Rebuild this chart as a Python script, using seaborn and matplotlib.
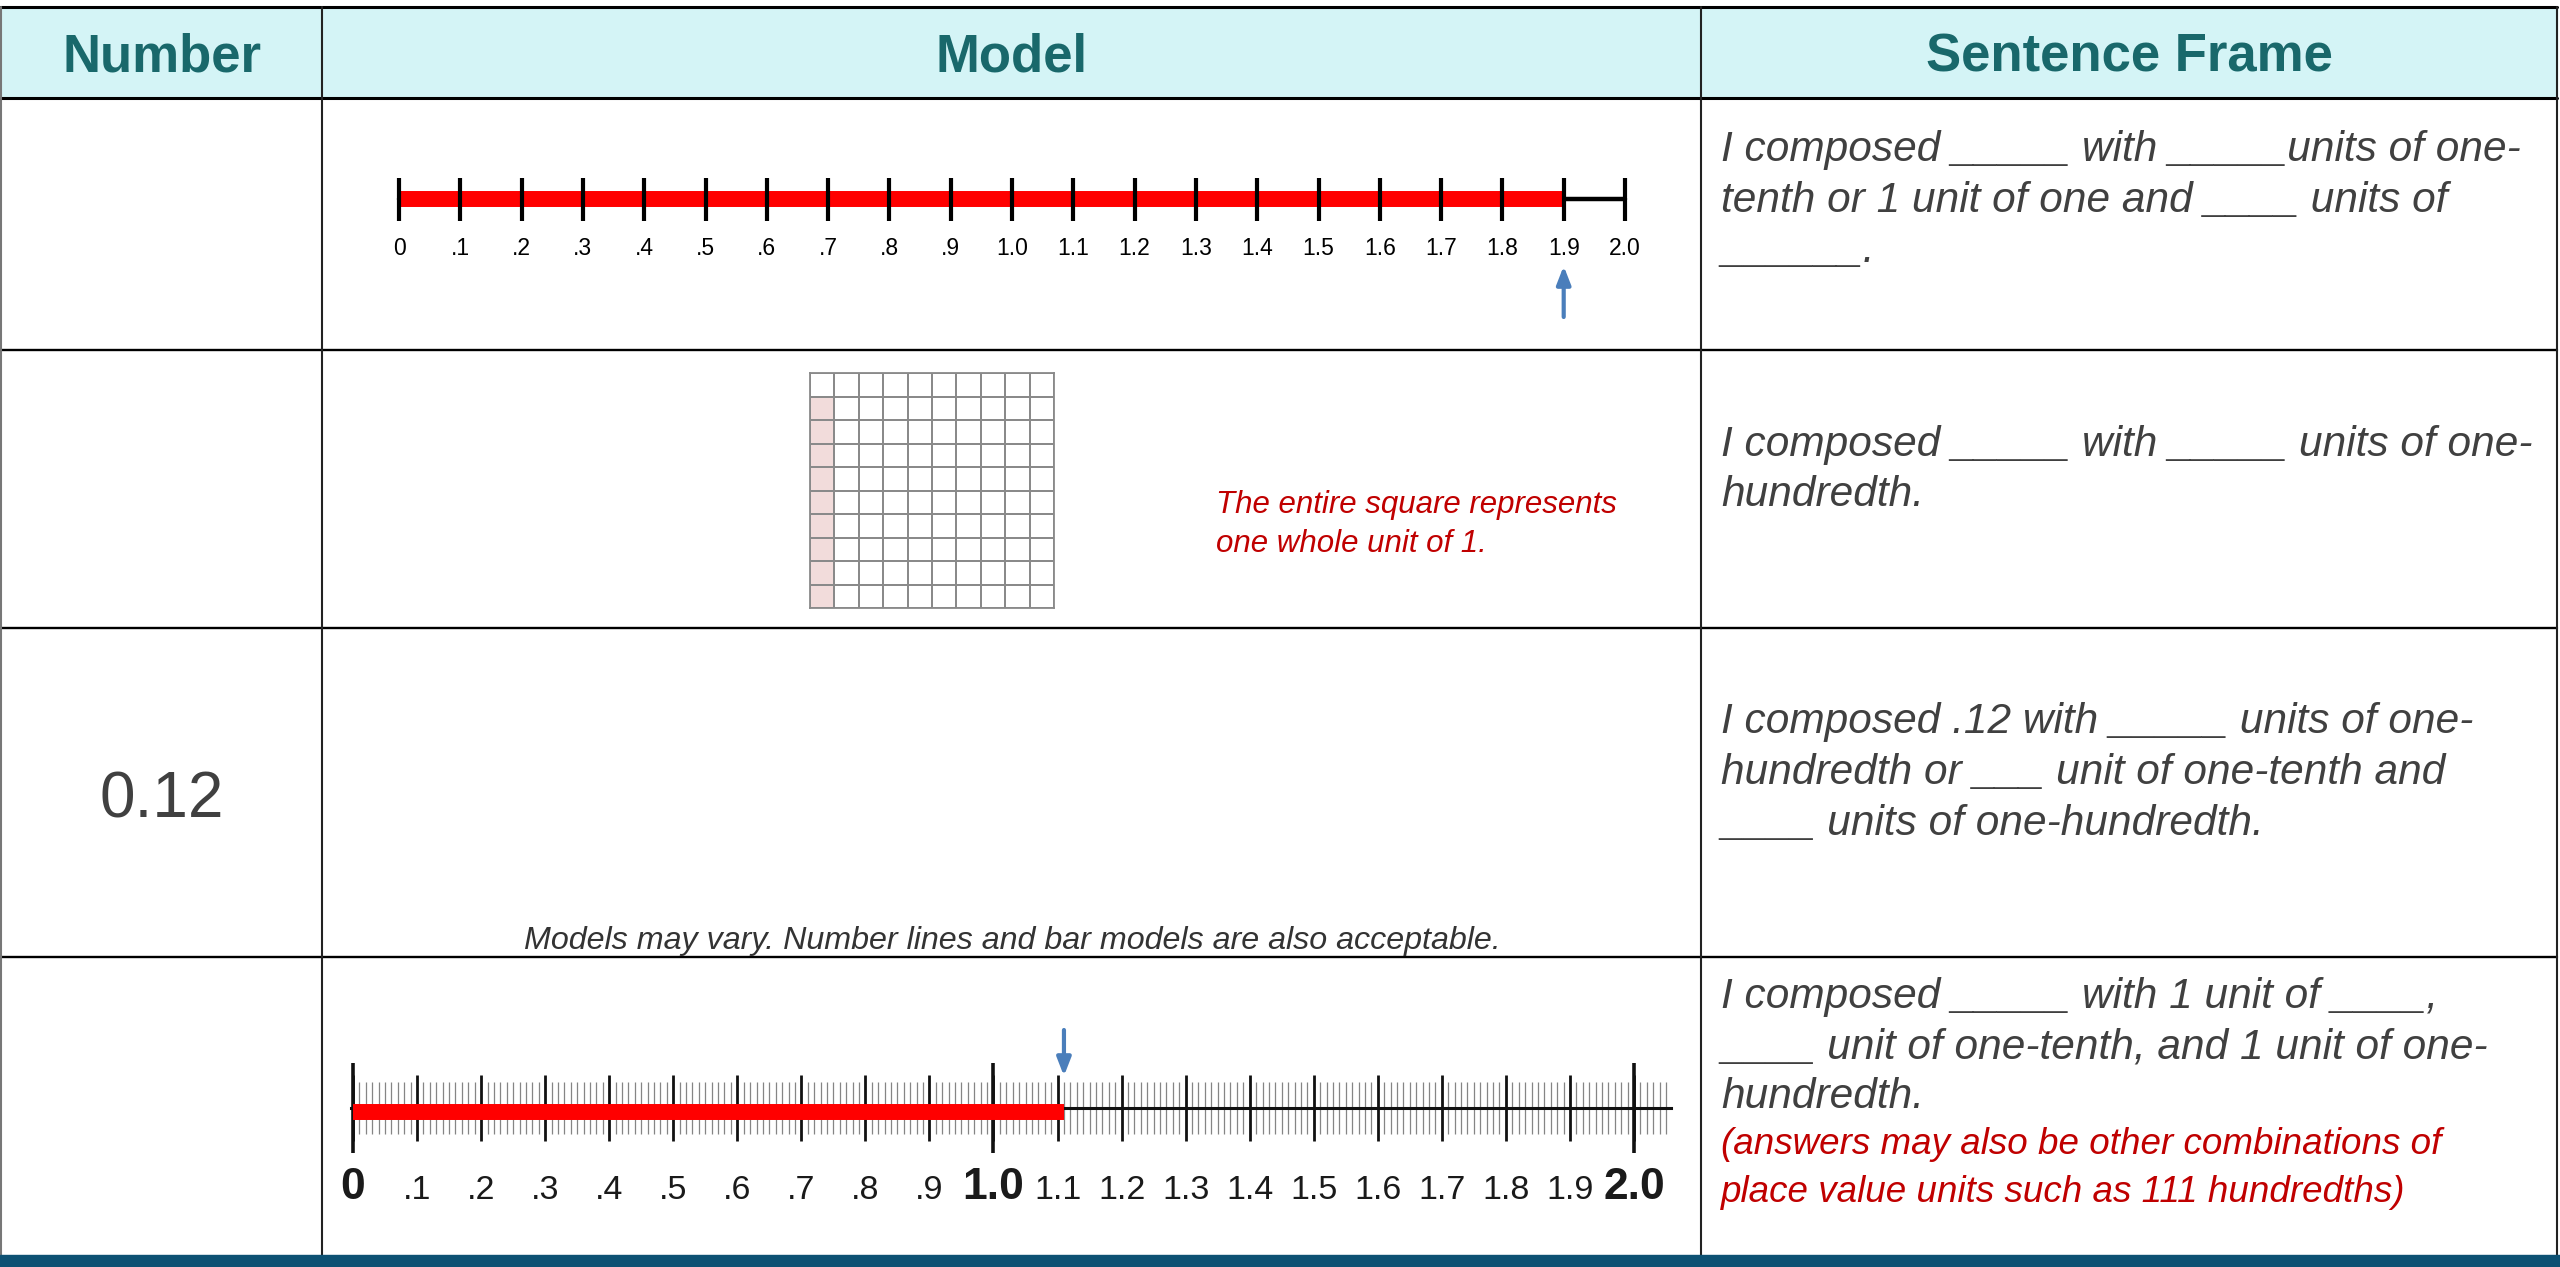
import numpy as np
import matplotlib
matplotlib.use("Agg")
import matplotlib.pyplot as plt
from matplotlib.colors import ListedColormap
from matplotlib.patches import Rectangle
from matplotlib.ticker import MultipleLocator
import seaborn as sns

# ── Data ──────────────────────────────────────────────────────────────
HEADERS = ["Number", "Model", "Sentence Frame"]
ROW_NUMBERS = ["", "", "0.12", ""]

TENTHS = [0.0, 0.1, 0.2, 0.3, 0.4, 0.5, 0.6, 0.7, 0.8, 0.9, 1.0,
          1.1, 1.2, 1.3, 1.4, 1.5, 1.6, 1.7, 1.8, 1.9, 2.0]
TENTH_LABELS = ["0", ".1", ".2", ".3", ".4", ".5", ".6", ".7", ".8", ".9", "1.0",
                "1.1", "1.2", "1.3", "1.4", "1.5", "1.6", "1.7", "1.8", "1.9", "2.0"]
LINE1_SHADED_TO = 1.9

GRID_SIZE = 10
GRID_SHADED_ROWS = [1, 2, 3, 4, 5, 6, 7, 8, 9]
GRID_SHADED_COL = 0
GRID_NOTE = ["The entire square represents", "one whole unit of 1."]

MODEL_NOTE = "Models may vary. Number lines and bar models are also acceptable."

RULER_BOLD = ["0", "1.0", "2.0"]
RULER_SHADED_TO = 1.11

FRAMES = [
    ["I composed _____ with _____units of one-",
     "tenth or 1 unit of one and ____ units of",
     "______."],
    ["I composed _____ with _____ units of one-",
     "hundredth."],
    ["I composed .12 with _____ units of one-",
     "hundredth or ___ unit of one-tenth and",
     "____ units of one-hundredth."],
    ["I composed _____ with 1 unit of ____,",
     "____ unit of one-tenth, and 1 unit of one-",
     "hundredth."],
]
FRAME_NOTE = ["(answers may also be other combinations of",
              "place value units such as 111 hundredths)"]

# ── Layout (pixels) ───────────────────────────────────────────────────
W, H, DPI = 2560, 1267, 100
COL_X = [1, 322, 1701, 2557]
ROW_Y = [7, 98, 350, 628, 957, 1255]
HEADER_BG = "#D4F4F6"
HEADER_FG = "#19686B"
TEXT_GREY = "#404040"
NOTE_RED = "#C00000"
ARROW_BLUE = "#4A7EBB"
BAR_BLUE = "#0D5173"

sns.set_theme(style="white")
plt.rcParams["font.family"] = ["Liberation Sans", "DejaVu Sans"]

fig = plt.figure(figsize=(W / DPI, H / DPI), dpi=DPI)


def px_axes(x0, y0, x1, y1):
    return fig.add_axes([x0 / W, 1 - y1 / H, (x1 - x0) / W, (y1 - y0) / H])


# ── Table frame ───────────────────────────────────────────────────────
ax = px_axes(0, 0, W, H)
ax.set_xlim(0, W)
ax.set_ylim(H, 0)
ax.axis("off")

ax.add_patch(Rectangle((0, ROW_Y[0]), COL_X[-1], ROW_Y[1] - ROW_Y[0],
                       color=HEADER_BG, zorder=0))
ax.add_patch(Rectangle((0, ROW_Y[-1]), W, H - ROW_Y[-1], color=BAR_BLUE, zorder=3))

for i, y in enumerate(ROW_Y[:-1]):
    ax.plot([0, COL_X[-1]], [y, y], color="black", lw=2.2 if i < 2 else 1.7, zorder=2)
for x in COL_X:
    ax.plot([x, x], [ROW_Y[0], ROW_Y[-1]], color="#222222" if x > 1 else "#777777",
            lw=1.5, zorder=2)

for i, head in enumerate(HEADERS):
    ax.text((COL_X[i] + COL_X[i + 1]) / 2, 57, head, ha="center", va="center",
            fontsize=38, fontweight="bold", color=HEADER_FG)

for i, num in enumerate(ROW_NUMBERS):
    if num:
        ax.text((COL_X[0] + COL_X[1]) / 2, 818, num, ha="center", va="baseline",
                fontsize=46, color=TEXT_GREY)

frame_baselines = [[161, 212, 262], [456, 506], [733, 784, 835], [1008, 1058, 1108]]
for lines, ys in zip(FRAMES, frame_baselines):
    for txt, y in zip(lines, ys):
        ax.text(1721, y, txt, ha="left", va="baseline", fontsize=30.5,
                style="italic", color=TEXT_GREY)
for txt, y in zip(FRAME_NOTE, [1154, 1202]):
    ax.text(1721, y, txt, ha="left", va="baseline", fontsize=26.5,
            style="italic", color=NOTE_RED)

for txt, y in zip(GRID_NOTE, [513, 552]):
    ax.text(1216, y, txt, ha="left", va="baseline", fontsize=22.5,
            style="italic", color=NOTE_RED)
ax.text(1012, 949, MODEL_NOTE, ha="center", va="baseline", fontsize=23.2,
        style="italic", color="#333333")

# ── Row 1: number line to 1.9 ─────────────────────────────────────────
x0_px, unit_px = 399, 613
nl = px_axes(x0_px - 0.05 * unit_px, 160, x0_px + 2.05 * unit_px, 330)
nl.set_xlim(-0.05, 2.05)
nl.set_ylim(330, 160)
nl.axis("off")
nl.plot([TENTHS[0], TENTHS[-1]], [199, 199], color="black", lw=3.2)
nl.plot([0, LINE1_SHADED_TO], [199, 199], color="#FF0000", lw=11.5,
        solid_capstyle="butt", zorder=3)
nl.vlines(TENTHS, 178, 221, color="black", lw=3, zorder=4)
for v, lab in zip(TENTHS, TENTH_LABELS):
    nl.text(v, 255, lab, ha="center", va="baseline", fontsize=16.5, color="black")
nl.annotate("", xy=(LINE1_SHADED_TO, 266), xytext=(LINE1_SHADED_TO, 317),
            arrowprops=dict(arrowstyle="-|>,head_length=0.9,head_width=0.35",
                            color=ARROW_BLUE, lw=3, shrinkA=0, shrinkB=0))

# ── Row 2: hundred grid ───────────────────────────────────────────────
grid = np.zeros((GRID_SIZE, GRID_SIZE))
grid[GRID_SHADED_ROWS, GRID_SHADED_COL] = 1
gx = px_axes(810, 373, 1054, 608)
sns.heatmap(grid, ax=gx, cmap=ListedColormap(["white", "#F2DCDB"]), cbar=False,
            linewidths=1.3, linecolor="#8a8a8a", xticklabels=False, yticklabels=False,
            vmin=0, vmax=1)
for sp in gx.spines.values():
    sp.set_visible(True)
    sp.set_color("#8a8a8a")
    sp.set_linewidth(1.3)

# ── Row 4: ruler number line to 1.11 ─────────────────────────────────
r0_px, r_unit = 353, 640.5
rx = px_axes(r0_px - 0.003 * r_unit, 1020, r0_px + 2.058 * r_unit, 1215)
rx.set_xlim(-0.003, 2.058)
rx.set_ylim(1215, 1020)
rx.set_facecolor("none")
for side in ["top", "left", "right"]:
    rx.spines[side].set_visible(False)
rx.spines["bottom"].set_position(("data", 1108))
rx.spines["bottom"].set_linewidth(2.2)
rx.spines["bottom"].set_color("#111111")
rx.set_yticks([])
rx.set_xticks(TENTHS)
rx.xaxis.set_minor_locator(MultipleLocator(0.01))
rx.tick_params(axis="x", which="major", direction="inout", length=47, width=2,
               color="#111111", labelbottom=False, bottom=True)
rx.tick_params(axis="x", which="minor", direction="inout", length=38, width=0.9,
               color="#858585", bottom=True)
bold_vals = [v for v, lab in zip(TENTHS, TENTH_LABELS) if lab in RULER_BOLD]
rx.vlines(bold_vals, 1063, 1153, color="#111111", lw=2.6)
rx.plot([0, RULER_SHADED_TO], [1112, 1112], color="#FF0000", lw=11.5,
        solid_capstyle="butt", zorder=5)
for v, lab in zip(TENTHS, TENTH_LABELS):
    big = lab in RULER_BOLD
    rx.text(v, 1199, lab, ha="center", va="baseline", fontsize=32 if big else 24.5,
            fontweight="bold" if big else "normal", color="#1a1a1a", clip_on=False)
rx.annotate("", xy=(RULER_SHADED_TO, 1076), xytext=(RULER_SHADED_TO, 1030),
            arrowprops=dict(arrowstyle="-|>,head_length=0.9,head_width=0.35",
                            color=ARROW_BLUE, lw=3, shrinkA=0, shrinkB=0),
            annotation_clip=False)

fig.savefig("out.png", dpi=DPI, facecolor="white")
